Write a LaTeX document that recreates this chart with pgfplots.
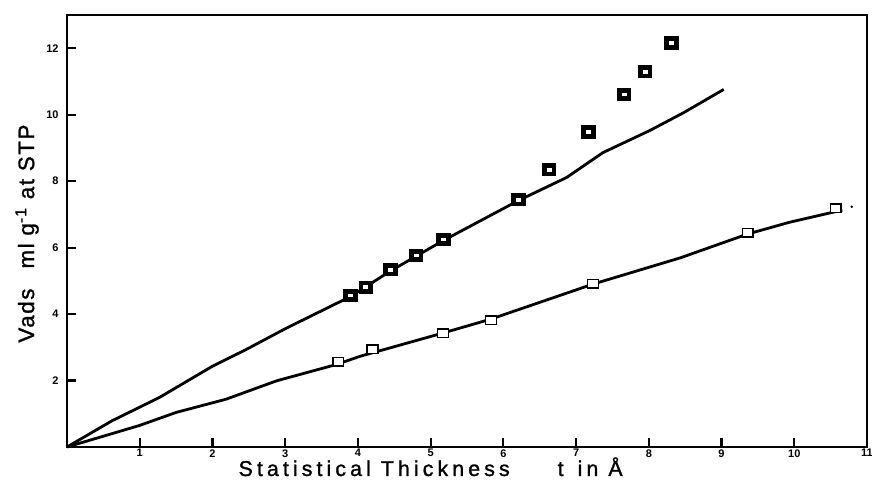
\documentclass[border=0pt]{standalone}
\usepackage{pgfplots}
\pgfplotsset{compat=1.18}
\usepackage{fontspec}
\setmainfont{Liberation Sans}
\usetikzlibrary{calc}

\begin{document}
\begin{tikzpicture}

\begin{axis}[
scale only axis,
width=400bp, height=216bp,
xmin=0, xmax=11, ymin=0, ymax=13,
axis line style={line width=1.4bp},
tick style={line width=1.1bp, black},
major tick length=4.5bp,
tick align=inside,
tick pos=left,
xtick={1,2,...,11},
ytick={2,4,...,12},
/pgf/number format/assume math mode=true,
ticklabel style={font=\fontsize{5.5bp}{6bp}\selectfont\bfseries},
xticklabel style={inner sep=1bp},
yticklabel style={inner sep=1bp, xshift=-3bp},
xlabel={\fontsize{10.7bp}{12bp}\selectfont\addfontfeature{LetterSpace=19,FakeBold=1.2}Statistical Thickness\hspace{24bp}t\hspace{7bp}in Å},
xlabel style={at={(axis description cs:0.214,-0.0671)}, anchor=base west, inner sep=0pt},
ylabel={\fontsize{11.2bp}{13bp}\selectfont\addfontfeature{LetterSpace=7,FakeBold=1.2}Vads\hspace{10bp}ml g\textsuperscript{-1} at STP},
ylabel style={at={(axis description cs:-0.0411,0.2407)}, anchor=base west, inner sep=0pt},
clip=false
]
% upper fitted curve
\addplot [line width=1.4bp, black] table {
0 0
0.62 0.79
1.27 1.49
2.0 2.43
2.46 2.93
3.01 3.57
3.9 4.53
4.45 5.3
5.18 6.22
6.21 7.42
6.87 8.11
7.37 8.86
8.01 9.52
8.47 10.05
9.03 10.76
};
% lower fitted curve
\addplot [line width=1.4bp, black] table {
0 0
1.0 0.65
1.5 1.04
2.19 1.44
2.88 1.99
3.7 2.48
4.03 2.73
5.17 3.43
5.83 3.85
7.23 4.9
8.43 5.69
9.36 6.41
9.93 6.76
10.66 7.13
};
% filled squares
\addplot [only marks, mark=square*, mark size=2.1bp,
  mark options={xscale=1.15, line width=2.4bp, draw=black, fill=white}] table {
3.9 4.56
4.11 4.81
4.45 5.33
4.80 5.76
5.18 6.24
6.21 7.44
6.63 8.34
7.17 9.48
7.66 10.61
7.95 11.29
8.31 12.16
};
% open squares
\addplot [only marks, mark=square*, mark size=2.1bp,
  mark options={xscale=1.3, line width=0.7bp, draw=black, fill=white}] table {
3.73 2.56
4.2 2.94
5.17 3.43
5.83 3.81
7.23 4.91
9.36 6.44
10.57 7.19
};
\addplot [only marks, mark=*, mark size=0.45bp, black] table {
10.79 7.23
};
\coordinate (sw) at (rel axis cs:0,0);
\coordinate (ne) at (rel axis cs:1,1);
\end{axis}
\pgfresetboundingbox
\useasboundingbox ($(sw)+(-33.5bp,-20bp)$) rectangle ($(ne)+(2.5bp,7.5bp)$);
\end{tikzpicture}
\end{document}
